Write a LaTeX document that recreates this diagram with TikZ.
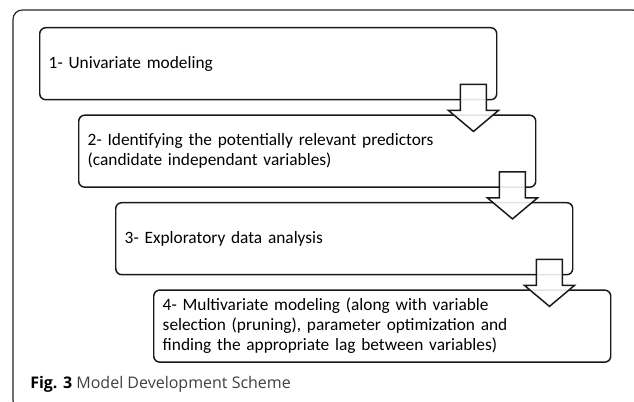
\documentclass[tikz,border=0pt]{standalone}
\usepackage{fontspec}
\setmainfont{Carlito}
\newfontfamily\capfont{Open Sans}
\usetikzlibrary{calc}

% down arrow from a stage to the next one, placed at the lower right of the stage
\newcommand{\stagearrow}[1]{%
    \draw[flowarr] ([shift={(-37,-16)}]#1.south east) -- ++(26,0) -- ++(0,26)
        -- ++(12,0) -- ++(-25,21) -- ++(-25,-21) -- ++(12,0) -- cycle;
}

\begin{document}
\begin{tikzpicture}[
    x=0.75pt, y=-0.75pt,
    stage/.style={draw=black!90, line width=1.1pt, rounded corners=4.5pt, anchor=north west,
        align=left, text width=329.25pt, inner xsep=6.75pt, minimum height=54pt,
        font=\fontsize{13}{15}\selectfont},
    flowarr/.style={draw=black!90, line width=1.1pt, fill=white, fill opacity=0.88},
    frame/.style={draw=black!85, line width=0.9pt, rounded corners=7pt}
]
\useasboundingbox (0,0) rectangle (634,402);
\clip (0,0) rectangle (634,402);

% outer frame
\draw[frame] (13,10) rectangle (642,410);

% === Stages ===
\node[stage] (box1) at (39,27) {1- Univariate modeling};
\node[stage] (box2) at ([shift={(39,14)}]box1.south west)
    {2- Identifying the potentially relevant predictors\\(candidate independant variables)};
\node[stage] (box3) at ([shift={(37,14)}]box2.south west) {3- Exploratory data analysis};
\node[stage] (box4) at ([shift={(38,14)}]box3.south west)
    {4- Multivariate modeling (along with variable\\selection (pruning), parameter optimization and\\finding the appropriate lag between variables)};

% === Arrows between stages ===
\stagearrow{box1}
\stagearrow{box2}
\stagearrow{box3}

% caption
\node[anchor=base west, inner sep=0pt, font=\capfont\fontsize{12}{14}\selectfont] (caption) at (30,388)
    {\textbf{Fig. 3} \textcolor{black!75}{Model Development Scheme}};
\end{tikzpicture}
\end{document}
